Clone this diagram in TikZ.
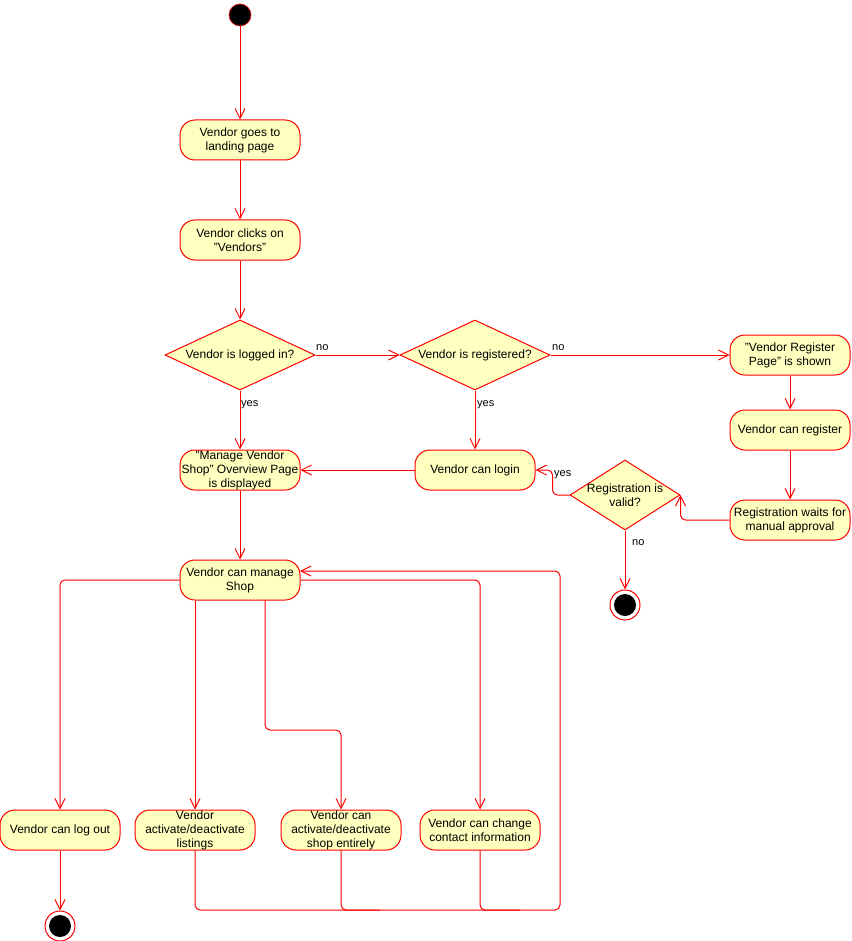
\documentclass[tikz,border=0pt]{standalone}
\usepackage{fontspec}
\setmainfont{Liberation Sans}
\usetikzlibrary{arrows.meta,shapes.geometric,calc}
\definecolor{actfill}{HTML}{FFFFC0}
\definecolor{edgered}{HTML}{FF0000}
\begin{document}
\begin{tikzpicture}[x=1pt,y=-1pt,
  act/.style={draw=edgered, fill=actfill, rounded corners=15pt, minimum width=120pt,
    minimum height=40pt, inner sep=0pt, align=center, line width=1pt,
    font=\fontsize{12}{14}\selectfont},
  dec/.style={draw=edgered, fill=actfill, diamond, inner sep=0pt, line width=1pt},
  dtext/.style={align=center, inner sep=0pt, font=\fontsize{12}{14}\selectfont},
  lbl/.style={inner sep=0pt, anchor=west, font=\fontsize{11}{13}\selectfont},
  startnode/.style={circle, fill=black, draw=edgered, line width=0.6pt, minimum size=22pt, inner sep=0pt},
  endnode/.style={circle, draw=edgered, fill=white, line width=1pt, minimum size=30pt, inner sep=0pt,
    path picture={\fill[black] (path picture bounding box.center) circle (11pt);}},
  flow/.style={draw=edgered, line width=1pt, rounded corners=5pt,
    -{Straight Barb[length=10pt,width=10pt]}},
  plain/.style={draw=edgered, line width=1pt, rounded corners=5pt}
]
\useasboundingbox (0,0) rectangle (851,941);

% nodes
\node[startnode] (start) at (240,15) {};
\node[act] (goes) at (240,140) {Vendor goes to\\landing page};
\node[act] (clicks) at (240,240) {Vendor clicks on\\"Vendors"};
\node[dec, minimum width=150pt, minimum height=70pt,
  label={[dtext]center:Vendor is logged in?}] (d1) at (240,355) {};
\node[dec, minimum width=150pt, minimum height=70pt,
  label={[dtext]center:Vendor is registered?}] (d2) at (475,355) {};
\node[act] (regpage) at (790,355) {"Vendor Register\\Page" is shown};
\node[act] (canreg) at (790,430) {Vendor can register};
\node[act] (waits) at (790,520) {Registration waits for\\manual approval};
\node[dec, minimum width=110pt, minimum height=70pt,
  label={[dtext]center:Registration is\\valid?}] (d3) at (625,495) {};
\node[endnode] (end1) at (625,605) {};
\node[act] (overview) at (240,470) {"Manage Vendor\\Shop" Overview Page\\is displayed};
\node[act] (login) at (475,470) {Vendor can login};
\node[act] (manage) at (240,580) {Vendor can manage\\Shop};
\node[act] (logout) at (60,830) {Vendor can log out};
\node[act] (listings) at (195,830) {Vendor\\activate/deactivate\\listings};
\node[act] (shop) at (341,830) {Vendor can\\activate/deactivate\\shop entirely};
\node[act] (contact) at (480,830) {Vendor can change\\contact information};
\node[endnode] (end2) at (60,926) {};

% labels
\node[lbl] (no1) at (316,348) {no};
\node[lbl] (no2) at (552,348) {no};
\node[lbl] (yes1) at (241,405) {yes};
\node[lbl] (yes2) at (477,405) {yes};
\node[lbl] (yes3) at (554,475) {yes};
\node[lbl] (no3) at (632,543) {no};

% helper coordinates
\coordinate (mshop) at (265,600);
\coordinate (mret) at (300,571);

% connectors
\draw[flow] (start) -- (goes);
\draw[flow] (goes) -- (clicks);
\draw[flow] (clicks) -- (d1.north);
\draw[flow] (d1.east) -- (d2.west);
\draw[flow] (d2.east) -- (regpage.west);
\draw[flow] (d1.south) -- (overview.north);
\draw[flow] (d2.south) -- (login.north);
\draw[flow] (login.west) -- (overview.east);
\draw[flow] (regpage) -- (canreg);
\draw[flow] (canreg) -- (waits);
\draw[flow] (waits.west) -| (d3.east);
\draw[flow] (d3.west) -- ++(-17,0) |- (login.east);
\draw[flow] (d3.south) -- (end1);
\draw[flow] (overview) -- (manage);
\draw[flow] (manage.west) -| (logout.north);
\draw[flow] (listings.north |- manage.south) -- (listings.north);
\draw[flow] (mshop) -- (265,730) -| (shop.north);
\draw[flow] (manage.east) -| (contact.north);
\draw[flow] (logout) -- (end2);
\draw[flow] (listings.south) -- (195,910) -- (560,910) -- (560,571) -- (mret);
\draw[plain] (shop.south) -- (341,910) -- (380,910);
\draw[plain] (contact.south) -- (480,910) -- (520,910);
\end{tikzpicture}
\end{document}
